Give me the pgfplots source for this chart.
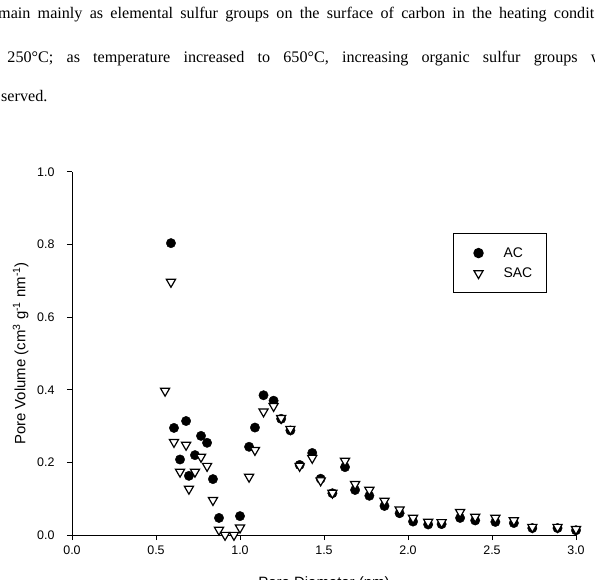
\documentclass[border=0pt]{standalone}
\usepackage{fontspec}
\setmainfont{Liberation Sans}
\newfontfamily\serif{Liberation Serif}
\usepackage{pgfplots}
\pgfplotsset{compat=1.18}
\pgfplotsset{myleg/.style={legend image code/.code={\path[draw=none, fill=none] (0bp,0bp) -- (24bp,0bp); \draw[mark repeat=2, mark phase=2, ##1] plot coordinates {(0bp,0bp) (13bp,0bp) (22bp,0bp)};}}}
\begin{document}
\begin{tikzpicture}[x=1bp,y=1bp]
\path[use as bounding box, clip] (-72,-45) rectangle (523,535);
\begin{axis}[
  at={(0,0)}, anchor=south west,
  scale only axis, width=504bp, height=363bp,
  xmin=0, xmax=3, ymin=0, ymax=1,
  enlargelimits=false, clip=false,
  axis lines=left,
  axis line style={-, line width=1pt},
  tick style={black, line width=1pt},
  tick align=outside, major tick length=5bp,
  xtick={0,0.5,1,1.5,2,2.5,3},
  ytick={0,0.2,0.4,0.6,0.8,1},
  /pgf/number format/assume math mode=true,
  xticklabel style={/pgf/number format/fixed, /pgf/number format/fixed zerofill, /pgf/number format/precision=1, font=\fontsize{12.5}{14}\selectfont, yshift=-2bp},
  yticklabel style={/pgf/number format/fixed, /pgf/number format/fixed zerofill, /pgf/number format/precision=1, font=\fontsize{12.5}{14}\selectfont, xshift=-9bp},
  xlabel={Pore Diameter (nm)},
  ylabel={Pore Volume (cm\textsuperscript{3} g\textsuperscript{-1} nm\textsuperscript{-1})},
  every axis x label/.style={at={(axis description cs:0.5,-0.146)}, anchor=base, font=\fontsize{15}{18}\selectfont},
  every axis y label/.style={at={(axis description cs:-0.102,0.5)}, rotate=90, anchor=center, font=\fontsize{15}{18}\selectfont},
  legend style={at={(axis description cs:0.756,0.832)}, anchor=north west, draw=black, line width=1pt, inner xsep=12bp, inner ysep=12bp, font=\fontsize{14}{16}\selectfont, row sep=5bp, /tikz/every odd column/.append style={column sep=12bp}},
  legend cell align=left,
]
\addplot[only marks, myleg, mark=*, mark size=4.7bp, mark options={fill=black, draw=black}] coordinates {
(0.589,0.804) (0.607,0.295) (0.643,0.208) (0.679,0.314) (0.696,0.163)
(0.732,0.220) (0.768,0.273) (0.804,0.254) (0.839,0.154) (0.875,0.047)
(1.0,0.052) (1.054,0.243) (1.089,0.296) (1.14,0.385) (1.20,0.370)
(1.245,0.320) (1.30,0.288) (1.355,0.193) (1.43,0.226) (1.48,0.155)
(1.55,0.115) (1.625,0.187) (1.685,0.124) (1.77,0.108) (1.86,0.080)
(1.95,0.060) (2.03,0.037) (2.12,0.029) (2.20,0.030) (2.31,0.047)
(2.40,0.040) (2.52,0.036) (2.63,0.033) (2.74,0.019) (2.89,0.019)
(3.0,0.013)
};
\addlegendentry{AC}
\addplot[only marks, myleg, mark=triangle*, mark size=5.3bp, mark options={rotate=180, fill=white, draw=black, line width=1.2pt}] coordinates {
(0.554,0.397) (0.589,0.697) (0.607,0.256) (0.643,0.174) (0.679,0.248)
(0.696,0.127) (0.732,0.174) (0.768,0.215) (0.804,0.190) (0.839,0.096)
(0.875,0.014) (0.911,0.0) (0.964,0.0) (1.0,0.020) (1.054,0.160)
(1.089,0.234) (1.14,0.340) (1.20,0.355) (1.245,0.322) (1.30,0.292)
(1.355,0.190) (1.43,0.212) (1.48,0.150) (1.55,0.116) (1.625,0.204)
(1.685,0.140) (1.77,0.124) (1.86,0.094) (1.95,0.070) (2.03,0.047)
(2.12,0.036) (2.20,0.035) (2.31,0.063) (2.40,0.050) (2.52,0.047)
(2.63,0.040) (2.74,0.022) (2.89,0.022) (3.0,0.016)
};
\addlegendentry{SAC}
\end{axis}
\node[anchor=base west, inner sep=0] at (-74,516) {\serif\fontsize{16.2}{18}\selectfont\makebox[596bp][s]{main mainly as elemental sulfur groups on the surface of carbon in the heating condit}};
\node[anchor=base west, inner sep=0] at (-64.7,472) {\serif\fontsize{16.2}{18}\selectfont\makebox[595bp][s]{250\textdegree C; as temperature increased to 650\textdegree C, increasing organic sulfur groups w}};
\node[anchor=base west, inner sep=0] at (-71,433) {\serif\fontsize{16.2}{18}\selectfont served.};
\end{tikzpicture}
\end{document}
